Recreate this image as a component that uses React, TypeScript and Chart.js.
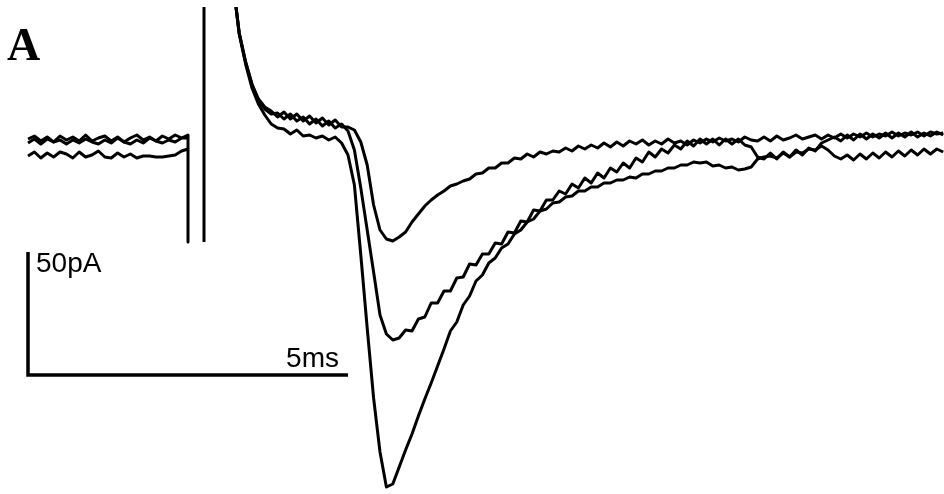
import { useEffect, useRef } from "react";
import { Chart, registerables } from "chart.js";

Chart.register(...registerables);

// ---- Data (time in ms, current in pA) ----
// Pre-stimulus baseline, t = -2.5 … 0 ms in 0.1 ms steps
const preTimes: number[] = Array.from({ length: 26 }, (_, i) => +(-2.5 + i * 0.1).toFixed(2));
const smallPre = [0.4, 1.6, -0.4, 1.2, -0.8, 1.6, 0, 1.2, -0.4, 2, -0.4, 0.8, 1.6, -0.4, 1.2, -0.8, 0.8, 2, 0, 1.2, -0.4, 1.6, 0.4, 2, 0.8, 2];
const mediumPre = [-1.2, 0.4, -1.6, 0.4, -0.8, 0, -1.6, 0, -1.2, 0.4, -0.8, -1.6, 0, -1.2, 0.8, -0.8, -1.6, 0, -1.2, 0.8, -0.4, -1.2, 0, -0.8, 0.8, 0.8];
const largePre = [-6.4, -4.8, -7.2, -5.2, -6.8, -4.8, -5.6, -7.2, -4.8, -6.8, -6, -4.4, -6.8, -7.2, -5.2, -6.8, -5.6, -7.2, -6.4, -6.4, -6.8, -6.8, -6.4, -6, -4.4, -3.6];

// Stimulus artifact
const artifactTimes = [0, 0, 0.125, 0.25, 0.25];
const artifactValues: (number | null)[] = [2, -40.8, null, -40.8, 60];

// Post-stimulus, t = 0.75 then 0.8 … 11.8 ms in 0.1 ms steps
const postTimes: number[] = [0.75, ...Array.from({ length: 111 }, (_, i) => +(0.8 + i * 0.1).toFixed(2))];
const smallPost = [53.2,
  42.8, 31.2,
  22.4, 16.4, 13.2, 11.6, 9.2, 11.2, 8.4, 10.4, 7.6, 9.6,
  6.8, 8.8, 6, 8, 5.2, 5.2, 4, -0.8, -10, -26,
  -36, -39.6, -40.4, -38.8, -36.8, -32.8, -29.6, -26.4, -24, -22,
  -20.4, -18.4, -17.6, -16.4, -15.6, -13.6, -13.2, -11.2, -11.2, -9.2,
  -9.2, -7.2, -7.6, -5.6, -6.8, -4.8, -5.6, -4.4, -4.8, -3.2,
  -4.4, -2.4, -3.6, -2, -3.2, -1.2, -2.8, -0.8, -2.4, -0.4,
  -1.6, 0, -2, -0.4, -1.6, 0.4, -1.2, -0.4, -2, 0,
  -1.2, 0.4, -0.8, 0.8, -0.4, 0.4, -0.8, 1.2, 0, -0.4,
  1.2, -0.4, 1.6, 0, 0.8, 2, 0.4, 1.2, 2, 0.4,
  2, 0.8, 2.4, 0.8, 2.4, 1.2, 2.8, 1.2, 2.4, 1.6,
  3.2, 1.6, 2.8, 2, 3.2, 1.6, 3.2, 2.4, 2.8];
const mediumPost = [53.2,
  42.8, 31.2,
  22, 16, 12.4, 10.4, 10.8, 8.4, 10.4, 7.6, 9.2, 6.4,
  8.4, 5.6, 7.6, 4.8, 6.4, 3.6, -4, -19.2, -36, -52.8,
  -70, -77.6, -80, -79.2, -76, -76.4, -71.6, -70.8, -65.2, -65.2,
  -60.4, -60.4, -55.2, -54.8, -49.6, -50, -45.6, -45.6, -41.2, -41.6,
  -36.8, -37.2, -32.4, -32.8, -28, -28.4, -24, -24, -20.4, -21.6,
  -17.6, -19.2, -15.2, -17.2, -13.2, -15.2, -11.2, -12.8, -9.2, -11.2,
  -7.2, -8.8, -4.8, -6.8, -3.6, -5.2, -2, -3.6, -0.4, -2.4,
  0.4, -1.6, 0.4, -2, 0.4, -1.6, 0.4, -2, -2.8, -6.8,
  -7.6, -5.2, -7.6, -4.8, -6.8, -4, -6, -3.2, -4.4, -1.2,
  0, 1.2, -0.4, 2, 0, 2.4, 0.4, 2.4, 0.8, 2.8,
  0.8, 2.8, 1.2, 3.2, 1.2, 2.8, 1.6, 3.2, 2];
const largePost = [53.2,
  42.4, 30.4,
  20.8, 14.4, 10, 6.4, 4.8, 4.4, 2.4, 4, 1.6, 2,
  0.8, 1.6, 0, 1.2, -1.2, -6, -18, -46, -75.2, -103.2,
  -124.8, -138.8, -137.6, -130.8, -124, -117.6, -110.4, -103.6, -97.2, -90.4,
  -83.6, -76.4, -72.8, -66, -62.4, -56.4, -54, -49.2, -47.2, -43.2,
  -41.6, -37.6, -36, -32.8, -31.6, -28.4, -27.6, -25.2, -24.8, -22.8,
  -22.4, -20.4, -20.4, -18.8, -18.8, -17.2, -17.2, -16, -16, -14.8,
  -15.2, -13.6, -13.6, -12.4, -12.4, -11.2, -11.2, -10, -10, -8.8,
  -9.2, -8.8, -10.4, -10, -11.2, -10.8, -12, -11.6, -10.8, -7.6,
  -6.8, -6.4, -7.2, -5.2, -6.8, -4.8, -5.2, -3.6, -4, -2.4,
  -4, -6.4, -7.6, -6, -8, -5.6, -7.6, -5.2, -7.2, -4.8,
  -6.8, -4.4, -6.4, -4, -6, -3.6, -5.6, -3.6, -4.8];

// Scale bar: 50 pA vertical, 5 ms horizontal
const scaleBarTimes = [-2.5, -2.5, 2.5];
const scaleBarValues = [-44.8, -94, -94];
const scaleBarLabels = { current: "50pA", time: "5ms" };
const panelLabel = "A";

// axis ranges
const X_MIN = -2.9375;
const X_MAX = 11.8125;
const Y_MIN = -141.6;
const Y_MAX = 53.2;

function trace(pre: number[], post: number[]) {
  const pts: { x: number; y: number | null }[] = [];
  pre.forEach((v, i) => pts.push({ x: preTimes[i], y: v }));
  pts.push({ x: 0.4, y: null });
  post.forEach((v, i) => pts.push({ x: postTimes[i], y: v }));
  return pts;
}

const labelsPlugin = {
  id: "figureLabels",
  afterDatasetsDraw(chart: any) {
    const { ctx, scales } = chart;
    const xs = scales.x;
    const ys = scales.y;
    ctx.save();
    ctx.fillStyle = "#000";
    ctx.textBaseline = "alphabetic";
    ctx.font = 'bold 46px "Liberation Serif", "Times New Roman", serif';
    ctx.textAlign = "left";
    ctx.fillText(panelLabel, 7, 60);
    ctx.font = '28px "Liberation Sans", Arial, sans-serif';
    const barX = xs.getPixelForValue(scaleBarTimes[0]);
    const barTop = ys.getPixelForValue(scaleBarValues[0]);
    ctx.fillText(scaleBarLabels.current, barX + 8, barTop + 20);
    const barRight = xs.getPixelForValue(scaleBarTimes[2]);
    const barY = ys.getPixelForValue(scaleBarValues[2]);
    ctx.textAlign = "right";
    ctx.fillText(scaleBarLabels.time, barRight - 9, barY - 8);
    ctx.restore();
  },
};

export default function App() {
  const ref = useRef<HTMLCanvasElement | null>(null);
  useEffect(() => {
    if (!ref.current) return;
    const lineStyle = {
      borderColor: "#000",
      borderWidth: 3,
      pointRadius: 0,
      tension: 0,
      spanGaps: false,
      borderJoinStyle: "round" as const,
      borderCapStyle: "butt" as const,
      fill: false,
    };
    const chart = new Chart(ref.current, {
      type: "line",
      data: {
        datasets: [
          { ...lineStyle, label: "small", data: trace(smallPre, smallPost) },
          { ...lineStyle, label: "medium", data: trace(mediumPre, mediumPost) },
          { ...lineStyle, label: "large", data: trace(largePre, largePost) },
          {
            ...lineStyle,
            label: "artifact",
            data: artifactTimes.map((t, i) => ({ x: t, y: artifactValues[i] })),
          },
          {
            ...lineStyle,
            label: "scale",
            borderWidth: 3.5,
            borderJoinStyle: "miter" as const,
            data: scaleBarTimes.map((t, i) => ({ x: t, y: scaleBarValues[i] })),
          },
        ],
      },
      options: {
        responsive: false,
        animation: false,
        parsing: false as any,
        layout: { padding: { top: 7, left: 0, right: 0, bottom: 0 } },
        plugins: { legend: { display: false }, tooltip: { enabled: false }, title: { display: false } },
        events: [],
        scales: {
          x: { type: "linear", min: X_MIN, max: X_MAX, display: false },
          y: { type: "linear", min: Y_MIN, max: Y_MAX, display: false },
        },
      },
      plugins: [labelsPlugin],
    });
    return () => chart.destroy();
  }, []);
  return (
    <div style={{ position: "absolute", left: 0, top: 0, width: 944, height: 494, background: "#fff" }}>
      <canvas ref={ref} width={944} height={494} style={{ display: "block" }} />
    </div>
  );
}
